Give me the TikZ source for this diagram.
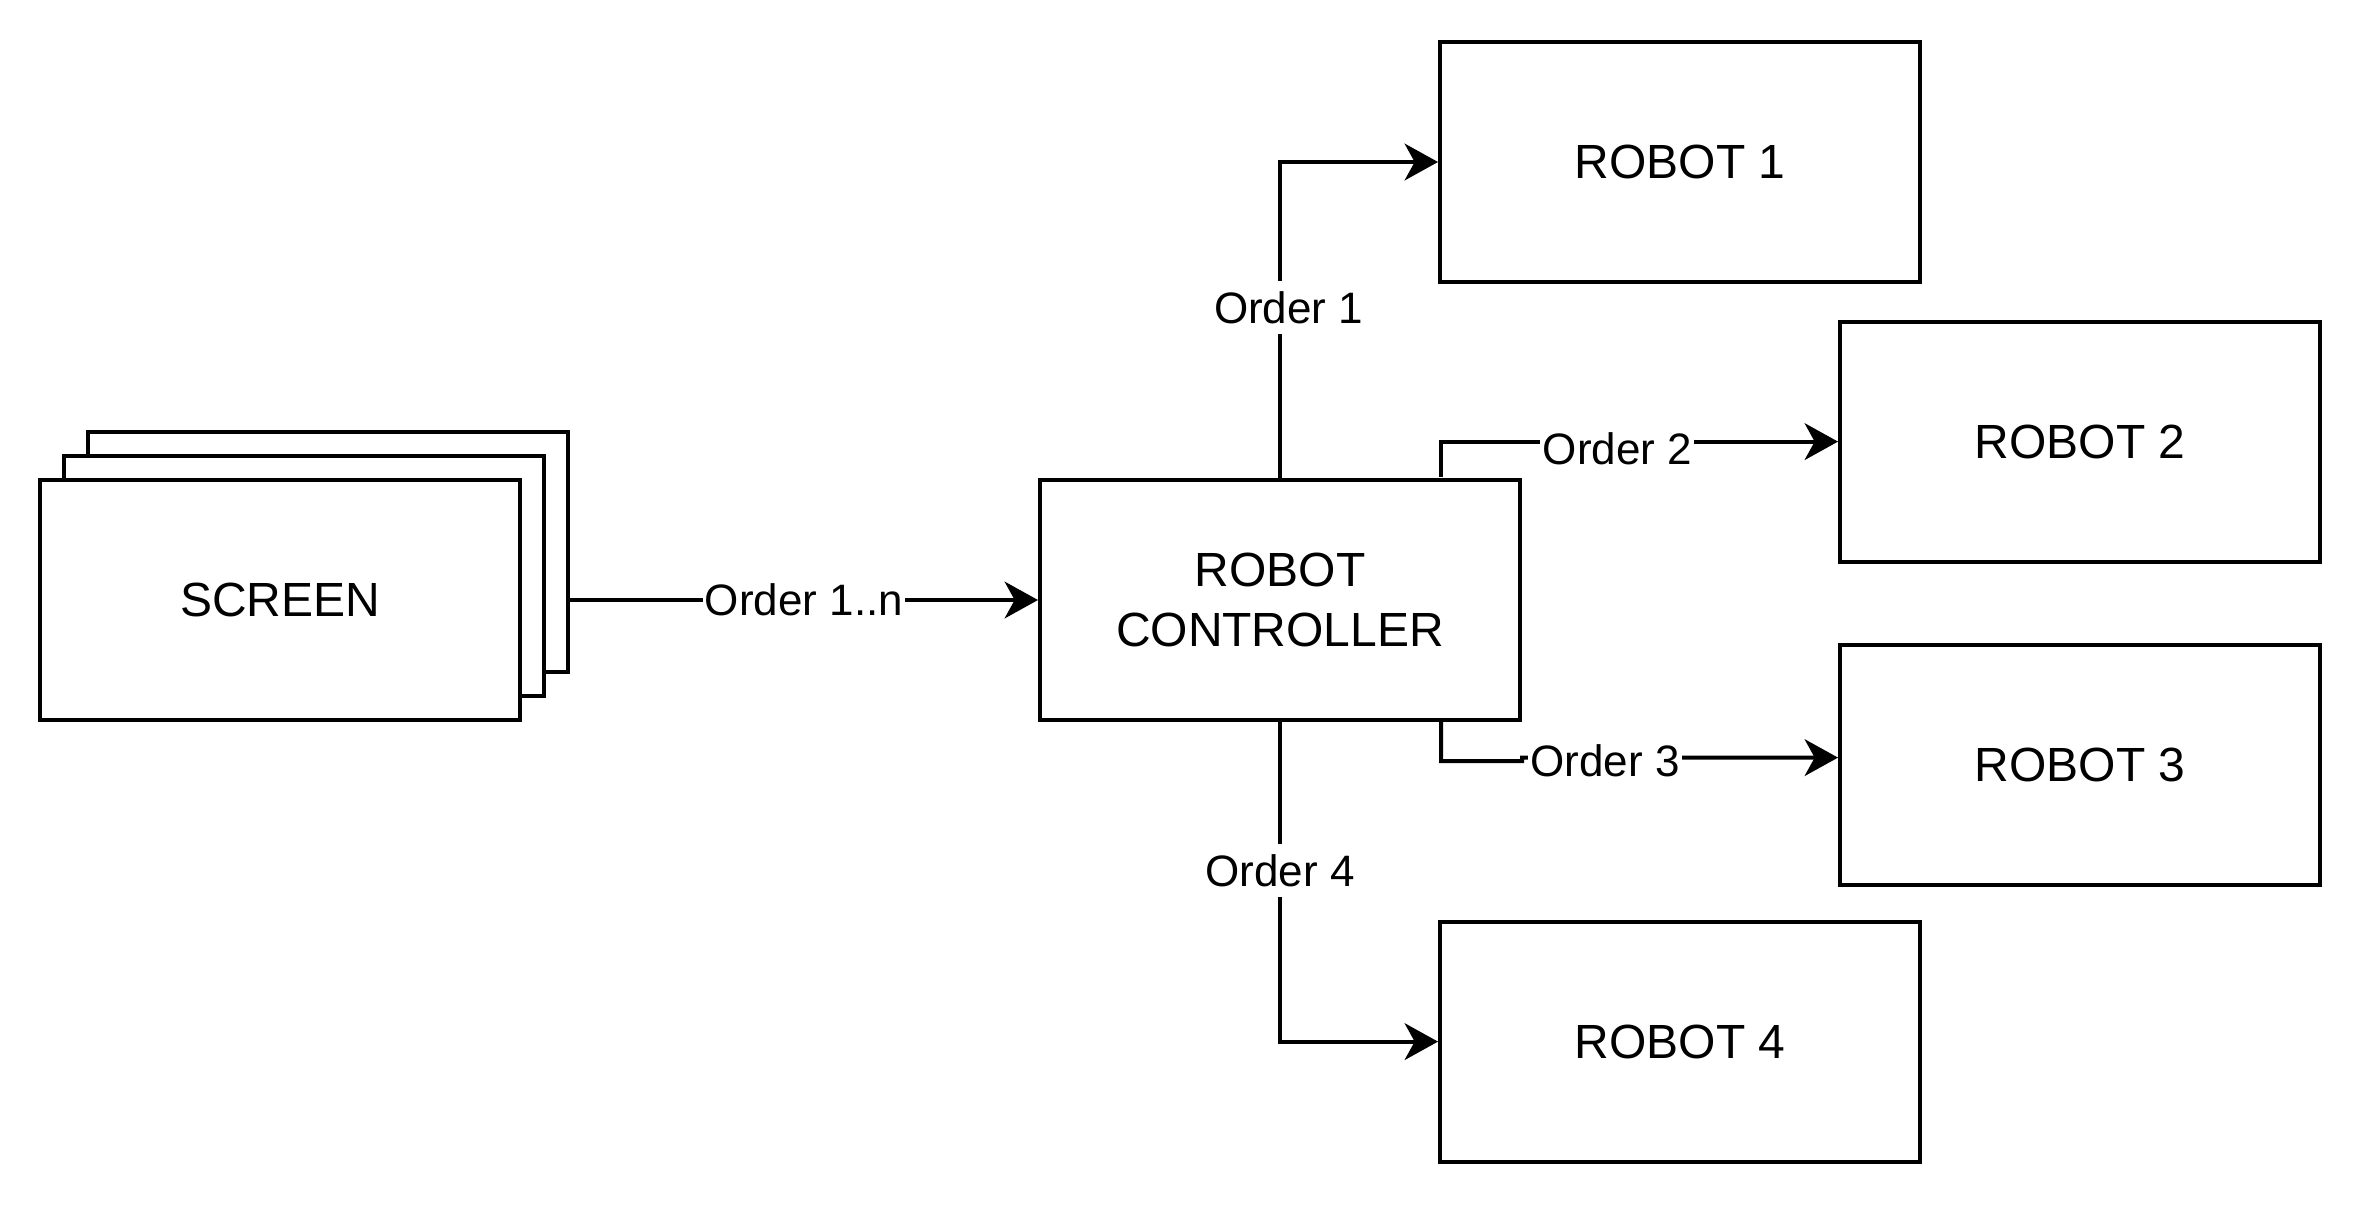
\documentclass[tikz,border=0pt]{standalone}
\usepackage{fontspec}
\setmainfont{Liberation Sans}
\usetikzlibrary{arrows.meta}
\begin{document}
\begin{tikzpicture}[x=0.03cm,y=-0.03cm,
  box/.style={draw, line width=0.85pt, fill=white, minimum width=3.6cm, minimum height=1.8cm,
    inner sep=0pt, align=center, font=\fontsize{10.24}{12.8}\selectfont},
  conn/.style={draw, line width=0.85pt, -{Stealth[length=0.25cm, width=0.275cm, inset=0.075cm]}},
  lbl/.style={fill=white, inner xsep=0.5pt, inner ysep=2.2pt, font=\fontsize{9.39}{11}\selectfont}]
\useasboundingbox (0,0) rectangle (591,301);
% screen stack
\node[box] (scrback) at (82,138) {};
\node[box] (scrmid) at (76,144) {};
\node[box] (scr) at (70,150) {SCREEN};
% controller
\node[box] (ctrl) at (320,150) {ROBOT\\CONTROLLER};
% robots
\node[box] (r1) at (420,40.5) {ROBOT 1};
\node[box] (r2) at (520,110.4) {ROBOT 2};
\node[box] (r3) at (520,191.3) {ROBOT 3};
\node[box] (r4) at (420,260.4) {ROBOT 4};
% helper coordinates
\coordinate (o2s) at (360.3,119.3);
\coordinate (o3s) at (360.3,180);
\coordinate (o3j) at (380.5,190.3);
% connectors
\draw[conn] (scrback.east |- ctrl.west) -- (ctrl.west) node[lbl, midway] {Order 1..n};
\draw[conn] (ctrl.north) |- (r1.west) node[lbl, pos=0.27, xshift=0.065cm] {Order 1};
\draw[conn] (o2s) |- (r2.west) node[lbl, pos=0.722, yshift=-0.05cm] {Order 2};
\draw[conn] (o3s) |- (o3j) -- ([yshift=0.027cm]o3j) -- ([yshift=0.057cm]r3.west) node[lbl, pos=0.263, yshift=-0.02cm] {Order 3};
\draw[conn] (ctrl.south) |- (r4.west) node[lbl, pos=0.233] {Order 4};
\end{tikzpicture}
\end{document}
